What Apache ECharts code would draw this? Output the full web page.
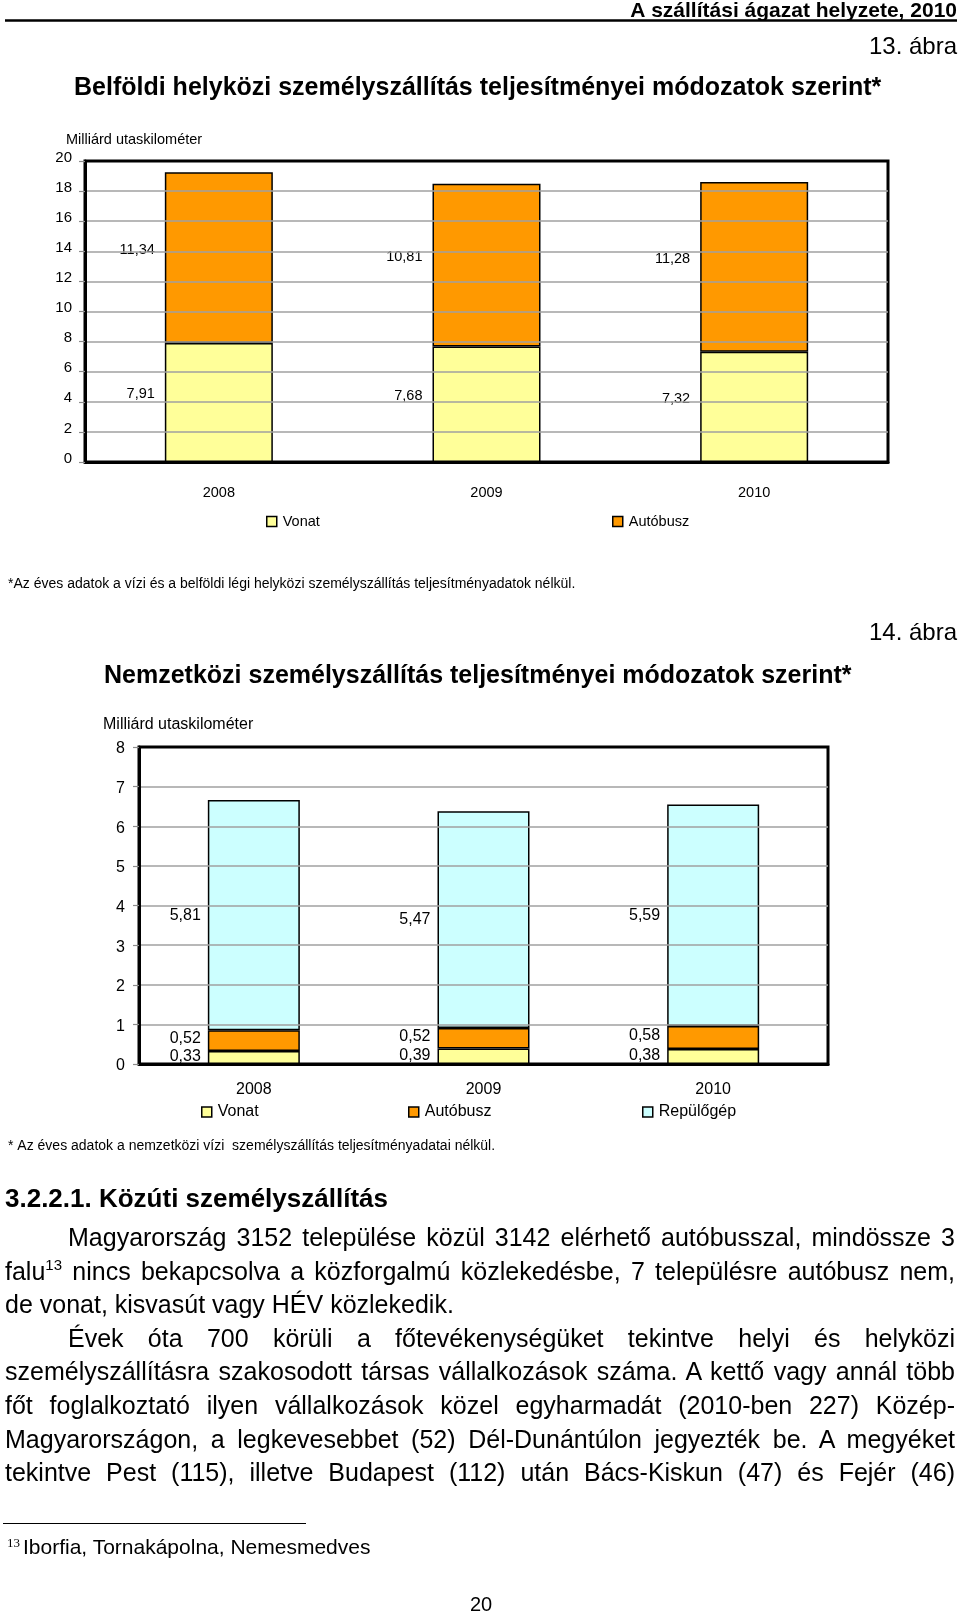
<!DOCTYPE html>
<html>
<head>
<meta charset="utf-8">
<script src="https://cdn.jsdelivr.net/npm/echarts@6/dist/echarts.min.js"></script>
<style>
html,body{margin:0;padding:0;background:#fff;}
#page{position:relative;width:960px;height:1613px;overflow:hidden;background:#fff;}
#chart{position:absolute;left:0;top:0;width:960px;height:1613px;}
.t{position:absolute;font-family:"Liberation Sans",Arial,sans-serif;color:#000;z-index:2;white-space:normal;}
.b{font-size:25px;line-height:33.6px;height:33.6px;}
.j{text-align:justify;text-align-last:justify;}
</style>
</head>
<body>
<div id="page">
  <div id="chart"></div>

  <div class="t" style="left:5px;top:1183px;font-size:26px;line-height:30px;font-weight:bold;">3.2.2.1. Közúti személyszállítás</div>

  <div class="t b j" style="left:68px;width:887px;top:1221px;">Magyarország 3152 települése közül 3142 elérhető autóbusszal, mindössze 3</div>
  <div class="t b j" style="left:5px;width:950px;top:1254.6px;">falu<span style="font-size:15px;vertical-align:10px;line-height:0;">13</span> nincs bekapcsolva a közforgalmú közlekedésbe, 7 településre autóbusz nem,</div>
  <div class="t b" style="left:5px;width:950px;top:1288.2px;">de vonat, kisvasút vagy HÉV közlekedik.</div>
  <div class="t b j" style="left:68px;width:887px;top:1321.8px;">Évek óta 700 körüli a főtevékenységüket tekintve helyi és helyközi</div>
  <div class="t b j" style="left:5px;width:950px;top:1355.4px;">személyszállításra szakosodott társas vállalkozások száma. A kettő vagy annál több</div>
  <div class="t b j" style="left:5px;width:950px;top:1389px;">főt foglalkoztató ilyen vállalkozások közel egyharmadát (2010-ben 227) Közép-</div>
  <div class="t b j" style="left:5px;width:950px;top:1422.6px;">Magyarországon, a legkevesebbet (52) Dél-Dunántúlon jegyezték be. A megyéket</div>
  <div class="t b j" style="left:5px;width:950px;top:1456.2px;">tekintve Pest (115), illetve Budapest (112) után Bács-Kiskun (47) és Fejér (46)</div>

  <div class="t" style="left:3px;top:1523px;width:303px;height:0;border-top:1px solid #000;"></div>
  <div class="t" style="left:7px;top:1536px;font-family:'Liberation Serif','Times New Roman',serif;font-size:13px;line-height:13px;">13</div>
  <div class="t" style="left:23px;top:1535px;font-size:21px;line-height:24px;">Iborfia, Tornakápolna, Nemesmedves</div>
</div>

<script>
// ---- data ----
const years = ['2008', '2009', '2010'];
const belfoldiVonat = [7.91, 7.68, 7.32];
const belfoldiAutobusz = [11.34, 10.81, 11.28];
const nemzetkoziVonat = [0.33, 0.39, 0.38];
const nemzetkoziAutobusz = [0.52, 0.52, 0.58];
const nemzetkoziRepulogep = [5.81, 5.47, 5.59];
const seriesNames = ['Vonat', 'Autóbusz', 'Repülőgép'];

// ---- styles ----
const FONT = '"Liberation Sans", Arial, sans-serif';
const COL = { 'Vonat': '#FFFF99', 'Autóbusz': '#FF9900', 'Repülőgép': '#CCFFFF' };
const fmt = p => p.value.toFixed(2).replace('.', ',');

function txt(x, y, text, font, align) {
  return {
    type: 'text', z: 10,
    style: {
      x: x, y: y, text: text, font: font, fill: '#000',
      textAlign: align || 'left', textVerticalAlign: 'middle',
      align: align || 'left', verticalAlign: 'middle'
    }
  };
}

function barSeries(name, data, axis, stack, width, lblSize, dist, offset) {
  return {
    type: 'bar', name: name, data: data, stack: stack,
    xAxisIndex: axis, yAxisIndex: axis, barWidth: width, z: 2,
    itemStyle: { color: COL[name], borderColor: '#000', borderWidth: 1.5 },
    label: {
      show: true, position: 'left', distance: dist, offset: offset,
      formatter: fmt, color: '#000', fontSize: lblSize, fontFamily: FONT
    }
  };
}

function legendItem(name, left, top, size) {
  return {
    data: [name], left: left, top: top, padding: 0, orient: 'horizontal',
    itemWidth: 10, itemHeight: 10, icon: 'rect', selectedMode: false,
    itemStyle: { borderColor: '#000', borderWidth: 1.5 },
    textStyle: { color: '#000', fontSize: size, fontFamily: FONT, padding: [0, 0, 0, 1] }
  };
}

const chart = echarts.init(document.getElementById('chart'), null, { renderer: 'canvas' });

const option = {
  animation: false,
  backgroundColor: '#fff',
  textStyle: { fontFamily: FONT },
  graphic: [
    txt(957, 11, 'A szállítási ágazat helyzete, 2010', 'bold 21px ' + FONT, 'right'),
    { type: 'line', z: 10, shape: { x1: 5, y1: 20.5, x2: 957, y2: 20.5 }, style: { stroke: '#000', lineWidth: 2.5 } },
    txt(957, 47, '13. ábra', '24px ' + FONT, 'right'),
    txt(74, 88.5, 'Belföldi helyközi személyszállítás teljesítményei módozatok szerint*', 'bold 25px ' + FONT, 'left'),
    txt(66, 140, 'Milliárd utaskilométer', '14.5px ' + FONT, 'left'),
    txt(8, 584, '*Az éves adatok a vízi és a belföldi légi helyközi személyszállítás teljesítményadatok nélkül.', '14px ' + FONT, 'left'),
    txt(957, 633.5, '14. ábra', '24px ' + FONT, 'right'),
    txt(104, 676.5, 'Nemzetközi személyszállítás teljesítményei módozatok szerint*', 'bold 25px ' + FONT, 'left'),
    txt(103, 724.5, 'Milliárd utaskilométer', '16px ' + FONT, 'left'),
    txt(8, 1146, '* Az éves adatok a nemzetközi vízi  személyszállítás teljesítményadatai nélkül.', '14px ' + FONT, 'left'),
    txt(481, 1605, '20', '20px ' + FONT, 'center')
  ],
  legend: [
    legendItem(seriesNames[0], 266, 514, 14.5),
    legendItem(seriesNames[1], 612, 514, 14.5),
    legendItem(seriesNames[0], 201, 1104, 16),
    legendItem(seriesNames[1], 408, 1104, 16),
    legendItem(seriesNames[2], 642, 1104, 16)
  ],
  grid: [
    { left: 85, top: 161, width: 803, height: 301, show: true, borderColor: '#000', borderWidth: 3,
      backgroundColor: '#fff', containLabel: false, outerBoundsMode: 'none' },
    { left: 139, top: 747, width: 689, height: 317, show: true, borderColor: '#000', borderWidth: 3,
      backgroundColor: '#fff', containLabel: false, outerBoundsMode: 'none' }
  ],
  xAxis: [
    { gridIndex: 0, type: 'category', data: years, z: 5,
      axisLine: { show: true, lineStyle: { color: '#000', width: 3 } },
      axisTick: { show: false },
      axisLabel: { margin: 23, fontSize: 14.5, color: '#000', fontFamily: FONT } },
    { gridIndex: 1, type: 'category', data: years, z: 5,
      axisLine: { show: true, lineStyle: { color: '#000', width: 3 } },
      axisTick: { show: false },
      axisLabel: { margin: 18, fontSize: 16, color: '#000', fontFamily: FONT } }
  ],
  yAxis: [
    { gridIndex: 0, type: 'value', min: 0, max: 20, interval: 2, z: 5,
      axisLine: { show: true, lineStyle: { color: '#000', width: 3 } },
      axisTick: { show: true, length: 6, lineStyle: { color: '#8c8c8c', width: 1.2 } },
      axisLabel: { margin: 13, fontSize: 15, color: '#000', fontFamily: FONT, verticalAlign: 'bottom', lineHeight: 7 },
      splitLine: { show: true, showMinLine: false, showMaxLine: false, lineStyle: { color: '#a0a0a0', width: 1.5 } } },
    { gridIndex: 1, type: 'value', min: 0, max: 8, interval: 1, z: 5,
      axisLine: { show: true, lineStyle: { color: '#000', width: 3 } },
      axisTick: { show: true, length: 6, lineStyle: { color: '#8c8c8c', width: 1.2 } },
      axisLabel: { margin: 14, fontSize: 16, color: '#000', fontFamily: FONT, verticalAlign: 'top', lineHeight: 4 },
      splitLine: { show: true, showMinLine: false, showMaxLine: false, lineStyle: { color: '#a0a0a0', width: 1.5 } } }
  ],
  series: [
    barSeries(seriesNames[0], belfoldiVonat, 0, 'belfoldi', 108, 14.5, 10, [0, -8]),
    barSeries(seriesNames[1], belfoldiAutobusz, 0, 'belfoldi', 108, 14.5, 10, [0, -8]),
    barSeries(seriesNames[0], nemzetkoziVonat, 1, 'nemzetkozi', 92, 16, 7, [0, -1]),
    barSeries(seriesNames[1], nemzetkoziAutobusz, 1, 'nemzetkozi', 92, 16, 7, [0, -2]),
    barSeries(seriesNames[2], nemzetkoziRepulogep, 1, 'nemzetkozi', 92, 16, 7, [0, 0])
  ]
};
chart.setOption(option);
</script>
</body>
</html>
